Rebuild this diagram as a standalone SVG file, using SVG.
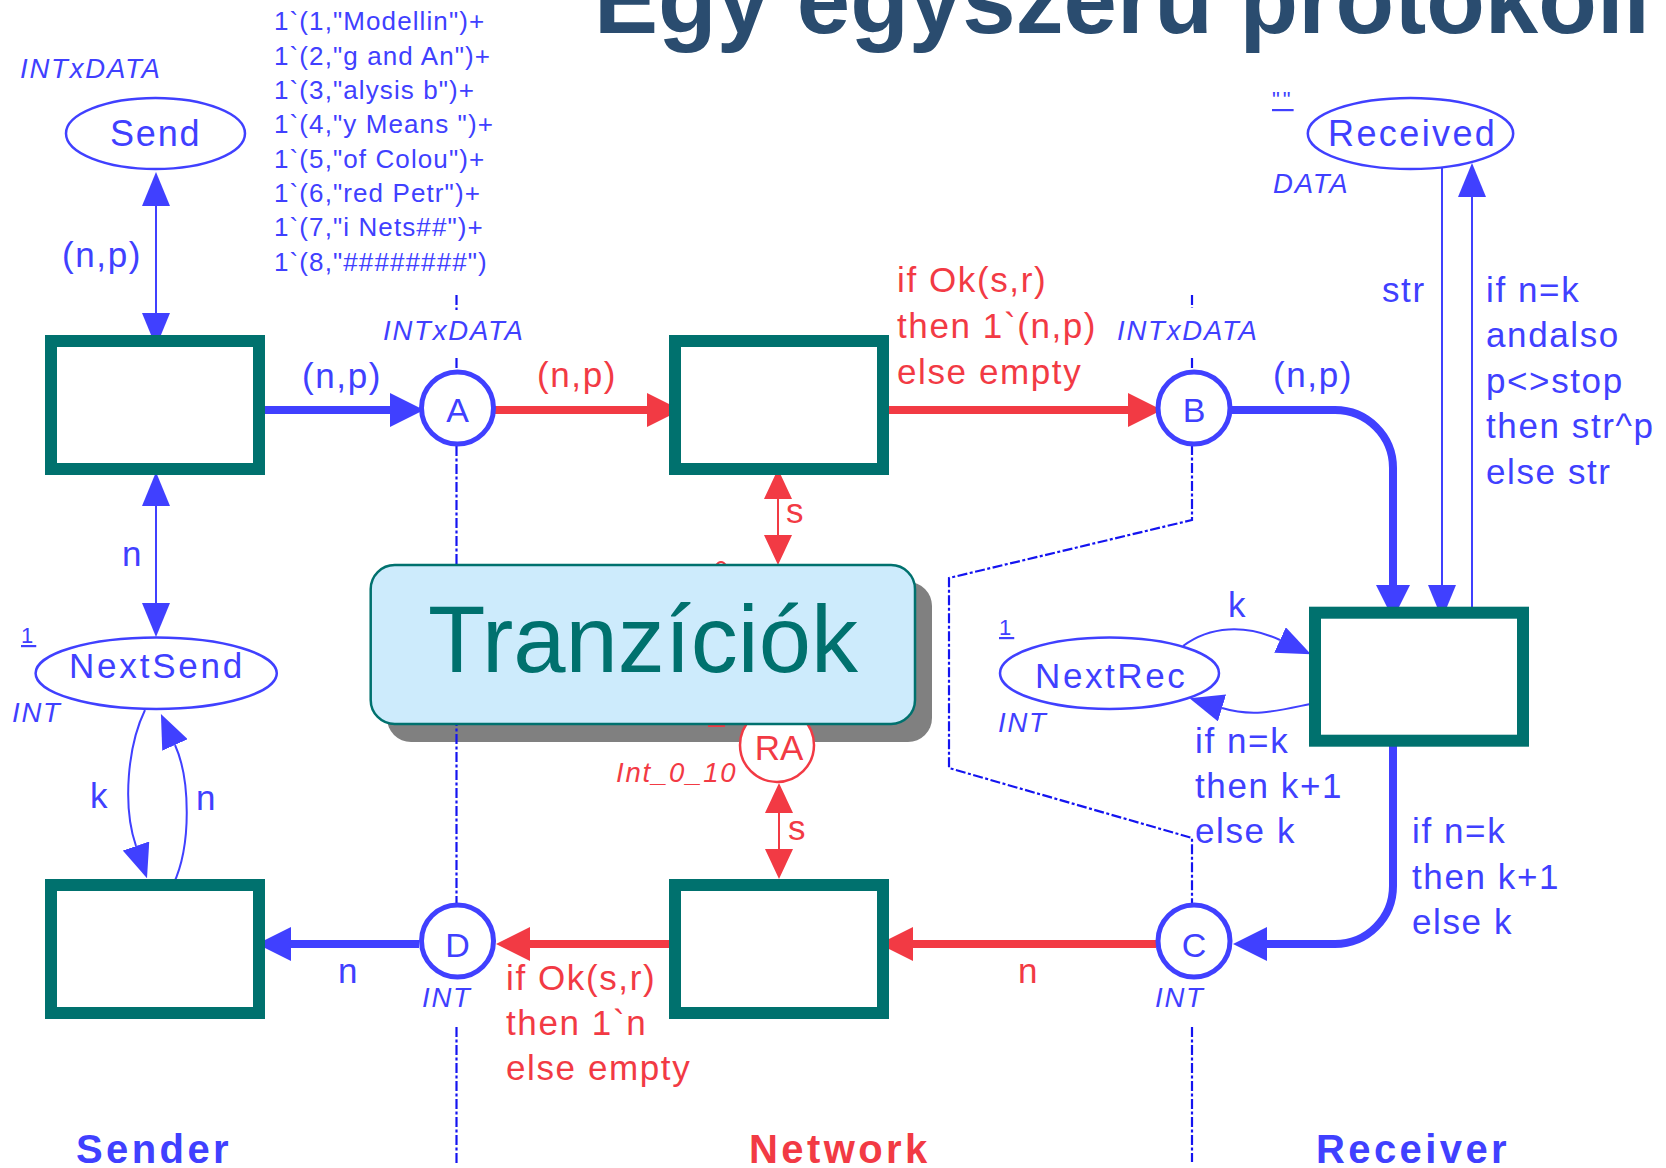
<svg xmlns="http://www.w3.org/2000/svg" width="1666" height="1168" viewBox="0 0 1666 1168">
  <defs>
    <style>
      text { font-family: "Liberation Sans", Arial, sans-serif; }
      .bl { fill: #4040ff; }
      .rd { fill: #f23a44; }
      .lbl { font-size: 35px; letter-spacing: 1.6px; }
      .it { font-style: italic; font-size: 27.5px; letter-spacing: 1.8px; }
      .mark { font-size: 26px; letter-spacing: 1.1px; }
      .ul { font-size: 22px; letter-spacing: 3px; text-decoration: underline; }
      .zone { font-size: 40px; font-weight: bold; letter-spacing: 3.4px; }
      .arcB { fill: none; stroke: #4040ff; }
      .arcR { fill: none; stroke: #f23a44; }
      .thick { stroke-width: 8; }
      .thin { stroke-width: 2; }
      .trans { fill: #ffffff; stroke: #00716e; stroke-width: 12; }
      .place { fill: #ffffff; stroke: #4040ff; stroke-width: 2.5; }
      .port { fill: #ffffff; stroke: #4040ff; stroke-width: 5; }
      .bound { fill: none; stroke: #1414f0; stroke-width: 2.2; stroke-dasharray: 10 2.5 3 2.5; }
    </style>
    <marker id="hb" markerUnits="userSpaceOnUse" viewBox="0 0 34 34" markerWidth="34" markerHeight="34" refX="0" refY="17" orient="auto-start-reverse">
      <path d="M0,0 L34,17 L0,34 z" fill="#4040ff"/>
    </marker>
    <marker id="hr" markerUnits="userSpaceOnUse" viewBox="0 0 34 34" markerWidth="34" markerHeight="34" refX="0" refY="17" orient="auto-start-reverse">
      <path d="M0,0 L34,17 L0,34 z" fill="#f23a44"/>
    </marker>
    <marker id="tb" markerUnits="userSpaceOnUse" viewBox="0 0 34 28" markerWidth="34" markerHeight="28" refX="0" refY="14" orient="auto-start-reverse">
      <path d="M0,0 L34,14 L0,28 z" fill="#4040ff"/>
    </marker>
    <marker id="tr" markerUnits="userSpaceOnUse" viewBox="0 0 30 28" markerWidth="30" markerHeight="28" refX="0" refY="14" orient="auto-start-reverse">
      <path d="M0,0 L30,14 L0,28 z" fill="#f23a44"/>
    </marker>
  </defs>

  <rect width="1666" height="1168" fill="#ffffff"/>

  <!-- title -->
  <text x="594" y="33" font-size="96" font-weight="bold" fill="#2a4c6f">Egy egyszerű protokoll</text>

  <!-- drop shadow of the overlay box (sits under the net) -->
  <rect id="callout-shadow" x="387" y="582" width="545" height="160" rx="24" fill="#808080"/>

  <!-- module boundaries -->
  <g id="boundaries">
    <path class="bound" d="M456.5,295 V310 M456.5,358 V372 M456.5,446 V903 M456.5,1027 V1163"/>
    <path class="bound" d="M1192,295 V308 M1192,358 V372 M1192,445 V520 L949,578 V768 L1192,838 V903 M1192,1027 V1162"/>
  </g>

  <!-- arcs -->
  <g id="connectors">
    <path class="arcB thin" d="M156,206 V313" marker-start="url(#tb)" marker-end="url(#tb)"/>
    <path class="arcB thick" d="M259,410 H390" marker-end="url(#hb)"/>
    <path class="arcR thick" d="M494,410 H647" marker-end="url(#hr)"/>
    <path class="arcR thick" d="M883,410 H1128" marker-end="url(#hr)"/>
    <path class="arcB thick" d="M1231,410 H1335 A58,58 0 0 1 1393,468 V585" marker-end="url(#hb)"/>
    <path class="arcB thin" d="M1442,168 V585" marker-end="url(#tb)"/>
    <path class="arcB thin" d="M1472,612 V197" marker-end="url(#tb)"/>
    <path class="arcB thick" d="M1393,746 V886 A58,58 0 0 1 1335,944 H1267" marker-end="url(#hb)"/>
    <path class="arcR thick" d="M1156,944 H913" marker-end="url(#hr)"/>
    <path class="arcR thick" d="M675,944 H530" marker-end="url(#hr)"/>
    <path class="arcB thick" d="M419,944 H291" marker-end="url(#hb)"/>
    <path class="arcB thin" d="M156,506 V603" marker-start="url(#tb)" marker-end="url(#tb)"/>
    <path class="arcB thin" d="M145,710 C128,745 122,805 136,846" marker-end="url(#tb)"/>
    <path class="arcB thin" d="M173,885 C192,845 190,778 175,745" marker-end="url(#tb)"/>
    <path class="arcB thin" d="M1183,646 C1210,626 1245,624 1280,640" marker-end="url(#tb)"/>
    <path class="arcB thin" d="M1315,703 C1280,710 1255,718 1222,708" marker-end="url(#tb)"/>
    <path class="arcR thin" d="M778,499 V535" marker-start="url(#tr)" marker-end="url(#tr)"/>
    <path class="arcR thin" d="M779,813 V849" marker-start="url(#tr)" marker-end="url(#tr)"/>
    <!-- ends of net items tucked behind the overlay box -->
    <path class="arcR thin" d="M715,567 Q721,557 727,567 M708,726 H725"/>
  </g>

  <!-- arc inscriptions -->
  <g id="inscriptions">
    <text class="bl lbl" x="62" y="267">(n,p)</text>
    <text class="bl lbl" x="302" y="388">(n,p)</text>
    <text class="rd lbl" x="537" y="387">(n,p)</text>
    <text class="rd lbl" x="897" y="292">if Ok(s,r)<tspan x="897" y="338">then 1`(n,p)</tspan><tspan x="897" y="384">else empty</tspan></text>
    <text class="bl lbl" x="1273" y="387">(n,p)</text>
    <text class="bl lbl" x="1382" y="302">str</text>
    <text class="bl lbl" x="1486" y="302">if n=k<tspan x="1486" y="347">andalso</tspan><tspan x="1486" y="393">p&lt;&gt;stop</tspan><tspan x="1486" y="438">then str^p</tspan><tspan x="1486" y="484">else str</tspan></text>
    <text class="bl lbl" x="122" y="566">n</text>
    <text class="bl lbl" x="90" y="808">k</text>
    <text class="bl lbl" x="196" y="810">n</text>
    <text class="bl lbl" x="338" y="983">n</text>
    <text class="rd lbl" x="1018" y="983">n</text>
    <text class="rd lbl" x="506" y="990">if Ok(s,r)<tspan x="506" y="1035">then 1`n</tspan><tspan x="506" y="1080">else empty</tspan></text>
    <text class="bl lbl" x="1228" y="617">k</text>
    <text class="bl lbl" x="1195" y="753">if n=k<tspan x="1195" y="798">then k+1</tspan><tspan x="1195" y="843">else k</tspan></text>
    <text class="bl lbl" x="1412" y="843">if n=k<tspan x="1412" y="889">then k+1</tspan><tspan x="1412" y="934">else k</tspan></text>
    <text class="rd lbl" x="786" y="523">s</text>
    <text class="rd lbl" x="788" y="840">s</text>
  </g>

  <!-- places -->
  <g id="place-send">
    <ellipse class="place" cx="155.5" cy="133.5" rx="89.5" ry="35.5"/>
    <text class="bl" x="110" y="146" font-size="36" letter-spacing="1.8">Send</text>
    <text class="bl it" x="20" y="78">INTxDATA</text>
    <text class="bl mark" x="274" y="30">1`(1,"Modellin")+</text>
    <text class="bl mark" x="274" y="64.5">1`(2,"g and An")+</text>
    <text class="bl mark" x="274" y="99">1`(3,"alysis b")+</text>
    <text class="bl mark" x="274" y="133" xml:space="preserve">1`(4,"y Means ")+</text>
    <text class="bl mark" x="274" y="167.5">1`(5,"of Colou")+</text>
    <text class="bl mark" x="274" y="202">1`(6,"red Petr")+</text>
    <text class="bl mark" x="274" y="236">1`(7,"i Nets##")+</text>
    <text class="bl mark" x="274" y="270.5">1`(8,"########")</text>
  </g>

  <g id="place-received">
    <ellipse class="place" cx="1410.5" cy="133.5" rx="102.7" ry="35.5"/>
    <text class="bl" x="1328" y="146" font-size="36" letter-spacing="2.4">Received</text>
    <text class="bl ul" x="1272" y="107">""</text>
    <text class="bl it" x="1273" y="193">DATA</text>
  </g>

  <g id="place-nextsend">
    <ellipse class="place" cx="156.2" cy="673.3" rx="120.6" ry="35.7"/>
    <text class="bl" x="69" y="678" font-size="35" letter-spacing="2.8">NextSend</text>
    <text class="bl ul" x="21" y="643">1</text>
    <text class="bl it" x="12" y="722">INT</text>
  </g>

  <g id="place-nextrec">
    <ellipse class="place" cx="1109.5" cy="673.3" rx="109.5" ry="35.7"/>
    <text class="bl" x="1035" y="688" font-size="35" letter-spacing="2.6">NextRec</text>
    <text class="bl ul" x="999" y="635">1</text>
    <text class="bl it" x="998" y="732">INT</text>
  </g>

  <g id="place-a">
    <circle class="port" cx="457.5" cy="408" r="36"/>
    <text class="bl" x="457.5" y="422" font-size="34" text-anchor="middle">A</text>
    <text class="bl it" x="383" y="340">INTxDATA</text>
  </g>

  <g id="place-b">
    <circle class="port" cx="1194" cy="408" r="36"/>
    <text class="bl" x="1194" y="422" font-size="34" text-anchor="middle">B</text>
    <text class="bl it" x="1117" y="340">INTxDATA</text>
  </g>

  <g id="place-c">
    <circle class="port" cx="1194" cy="941" r="36"/>
    <text class="bl" x="1194" y="957" font-size="34" text-anchor="middle">C</text>
    <text class="bl it" x="1155" y="1007">INT</text>
  </g>

  <g id="place-d">
    <circle class="port" cx="457.5" cy="941" r="36"/>
    <text class="bl" x="457.5" y="957" font-size="34" text-anchor="middle">D</text>
    <text class="bl it" x="422" y="1007">INT</text>
  </g>

  <g id="place-ra">
    <circle cx="777" cy="745" r="37" fill="#ffffff" stroke="#f23a44" stroke-width="2.5"/>
    <text class="rd" x="779" y="760" font-size="35" text-anchor="middle">RA</text>
    <text class="rd it" x="616" y="782" letter-spacing="1.2">Int_0_10</text>
  </g>

  <!-- transitions -->
  <g id="trans-send-packet"><rect class="trans" x="51" y="341" width="208" height="128"/></g>
  <g id="trans-transmit-packet"><rect class="trans" x="675" y="341" width="208" height="128"/></g>
  <g id="trans-receive-packet"><rect class="trans" x="1315" y="612.7" width="208" height="128"/></g>
  <g id="trans-receive-ack"><rect class="trans" x="51" y="885" width="208" height="128"/></g>
  <g id="trans-transmit-ack"><rect class="trans" x="675" y="885" width="208" height="128"/></g>

  <!-- module names -->
  <g id="zones">
    <text class="zone bl" x="76" y="1163">Sender</text>
    <text class="zone rd" x="749" y="1163">Network</text>
    <text class="zone bl" x="1316" y="1163">Receiver</text>
  </g>

  <!-- overlay caption box -->
  <g id="callout">
    <rect x="370.7" y="565" width="544.3" height="159" rx="24" fill="#cdebfc" stroke="#00716e" stroke-width="2.5"/>
    <text x="643" y="672" font-size="94" fill="#00716e" text-anchor="middle">Tranzíciók</text>
  </g>
</svg>
